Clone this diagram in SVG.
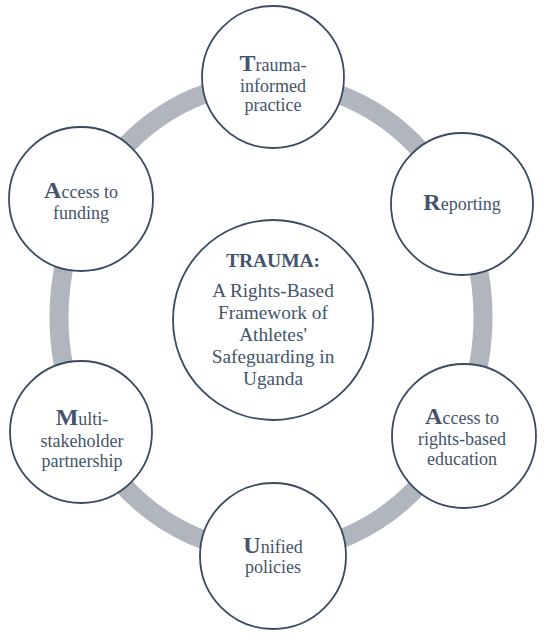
<svg xmlns="http://www.w3.org/2000/svg" width="550" height="640" viewBox="0 0 550 640">
<style>
.n{fill:#fff;stroke:#3a4a64;stroke-width:1.8}
.t{font-family:'Liberation Serif','DejaVu Serif',serif;font-size:18px;fill:#44546a;text-anchor:middle}
.b{font-weight:bold;font-size:24px}
.h{font-weight:bold;font-size:19.5px}
.c{font-size:19.3px}
.ring{fill:none;stroke:#b1b5bd;stroke-width:19}
</style>
<rect width="550" height="640" fill="#fff"/>
<g id="connectors">
<ellipse class="ring" cx="271" cy="317" rx="212" ry="235"/>
</g>
<g font-family="Liberation Serif, serif">
<g id="center">
<circle class="n" cx="273" cy="320" r="100"/>
<text class="t h" x="273" y="267">TRAUMA:</text>
<text class="t c" x="273" y="297">A Rights-Based</text>
<text class="t c" x="273" y="319">Framework of</text>
<text class="t c" x="273" y="341">Athletes'</text>
<text class="t c" x="273" y="363">Safeguarding in</text>
<text class="t c" x="273" y="385">Uganda</text>
</g>
<g id="trauma-informed">
<circle class="n" cx="273" cy="77" r="71"/>
<text class="t" x="273" y="71"><tspan class="b">T</tspan>rauma-</text>
<text class="t" x="273" y="92">informed</text>
<text class="t" x="273" y="111">practice</text>
</g>
<g id="reporting">
<circle class="n" cx="462" cy="204" r="71"/>
<text class="t" x="462" y="210"><tspan class="b">R</tspan>eporting</text>
</g>
<g id="rights-education">
<circle class="n" cx="464" cy="436" r="72"/>
<text class="t" x="462" y="424"><tspan class="b">A</tspan>ccess to</text>
<text class="t" x="462" y="445">rights-based</text>
<text class="t" x="462" y="465">education</text>
</g>
<g id="unified">
<circle class="n" cx="273" cy="556" r="73"/>
<text class="t" x="273" y="553"><tspan class="b">U</tspan>nified</text>
<text class="t" x="273" y="573">policies</text>
</g>
<g id="multi">
<circle class="n" cx="81" cy="432" r="71"/>
<text class="t" x="82" y="425"><tspan class="b">M</tspan>ulti-</text>
<text class="t" x="82" y="447">stakeholder</text>
<text class="t" x="82" y="467">partnership</text>
</g>
<g id="funding">
<circle class="n" cx="81" cy="199" r="72"/>
<text class="t" x="81" y="198"><tspan class="b">A</tspan>ccess to</text>
<text class="t" x="81" y="219">funding</text>
</g>
</g>
</svg>
